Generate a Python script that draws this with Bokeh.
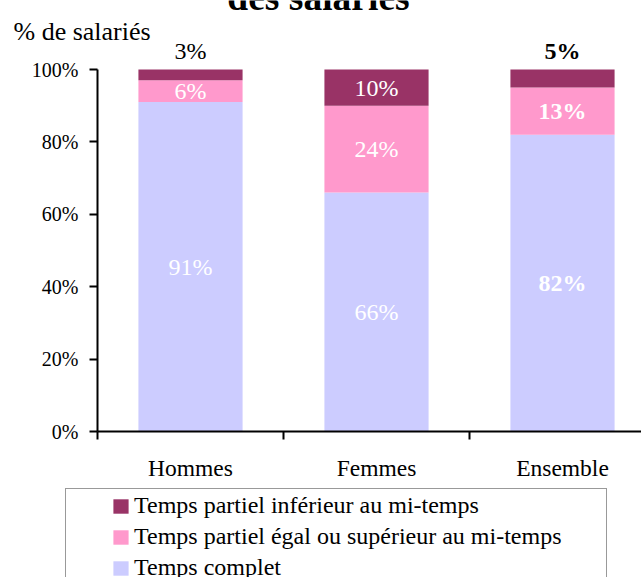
from bokeh.plotting import figure
from bokeh.models import (Range1d, FixedTicker, NumeralTickFormatter, Legend, LegendItem,
                          ColumnDataSource, Label)
from bokeh.core.properties import value
from bokeh.embed import file_html
from bokeh.resources import INLINE

# ---- data ----
categories = ["Hommes", "Femmes", "Ensemble"]
temps_complet = [0.91, 0.66, 0.82]
partiel_sup = [0.06, 0.24, 0.13]
partiel_inf = [0.03, 0.10, 0.05]
series_names = ["Temps complet",
                "Temps partiel égal ou supérieur au mi-temps",
                "Temps partiel inférieur au mi-temps"]
y_ticks = [0, 0.2, 0.4, 0.6, 0.8, 1.0]
y_title = "% de salariés"
chart_title = "des salariés"

# ---- style / layout ----
FONT = "Liberation Serif"
colors = ["#CCCCFF", "#FF99CC", "#993366"]
bold_category = "Ensemble"
W, H = 641, 577
X0_PX, Y0_PX, Y1_PX, CAT_PX = 97, 431, 69, 186   # screen position of the axes origin / scale
PX_PER_Y = Y0_PX - Y1_PX

x_centers = [i + 0.5 for i in range(len(categories))]
x_bounds = list(range(len(categories) + 1))
x_start = -X0_PX / CAT_PX
x_end = (W - X0_PX) / CAT_PX
y_start = -(H - Y0_PX) / PX_PER_Y
y_end = 1 + Y1_PX / PX_PER_Y

p = figure(width=W, height=H, title=None,
           x_range=Range1d(x_start, x_end), y_range=Range1d(y_start, y_end),
           output_backend="svg", toolbar_location=None, min_border=0)
p.outline_line_color = None
p.xgrid.visible = False
p.ygrid.visible = False

keys = ["complet", "sup", "inf"]
src = ColumnDataSource(dict(x=x_centers, complet=temps_complet, sup=partiel_sup, inf=partiel_inf))
rs = p.vbar_stack(keys, x="x", width=0.56, fill_color=colors, line_color=None, source=src)

# value labels
series = [temps_complet, partiel_sup, partiel_inf]
lx, ly, lt, lc, ls, lo = [], [], [], [], [], []
for i, cat in enumerate(categories):
    base = 0.0
    total = sum(s[i] for s in series)
    for k, s in enumerate(series):
        v = s[i]
        top_small = (k == len(series) - 1) and v < 0.08
        lx.append(x_centers[i])
        if top_small:
            ly.append(total)
            lo.append(-19)
            lc.append("black")
        else:
            ly.append(base + v / 2)
            lo.append(0)
            lc.append("white")
        lt.append(f"{round(v * 100)}%")
        ls.append("bold" if cat == bold_category else "normal")
        base += v
lsrc = ColumnDataSource(dict(x=lx, y=ly, text=lt, color=lc, style=ls, yoff=lo))
p.text(x="x", y="y", text="text", text_color="color", text_font_style="style",
       y_offset="yoff", text_align="center", text_baseline="middle",
       text_font=value(FONT), text_font_size="24px", source=lsrc)

# axes (drawn at the data origin)
p.yaxis.fixed_location = 0
p.yaxis.bounds = (0, 1)
p.yaxis.ticker = FixedTicker(ticks=y_ticks)
p.yaxis.formatter = NumeralTickFormatter(format="0%")
p.yaxis.major_label_text_font = FONT
p.yaxis.major_label_text_font_size = "20px"
p.yaxis.major_label_text_color = "black"
p.yaxis.major_tick_out = 8
p.yaxis.major_tick_in = 0
p.yaxis.minor_tick_line_color = None
p.yaxis.axis_line_width = 2
p.yaxis.major_tick_line_width = 2
p.yaxis.axis_line_color = "black"
p.yaxis.major_label_standoff = 11

p.xaxis.fixed_location = 0
p.xaxis.bounds = (0, x_end)
p.xaxis.ticker = FixedTicker(ticks=x_centers, minor_ticks=x_bounds)
p.xaxis.major_label_overrides = {xc: c for xc, c in zip(x_centers, categories)}
p.xaxis.major_label_text_font = FONT
p.xaxis.major_label_text_font_size = "23.5px"
p.xaxis.major_label_text_color = "black"
p.xaxis.major_tick_out = 0
p.xaxis.major_tick_in = 0
p.xaxis.major_tick_line_color = None
p.xaxis.minor_tick_out = 8
p.xaxis.minor_tick_in = 0
p.xaxis.minor_tick_line_width = 2
p.xaxis.minor_tick_line_color = "black"
p.xaxis.axis_line_width = 2
p.xaxis.axis_line_color = "black"
p.xaxis.major_label_standoff = 15

# texts above the plot
p.add_layout(Label(x=0, y=1, x_offset=-84, y_offset=38, text=y_title,
                   text_font=FONT, text_font_size="26px", text_color="black",
                   text_align="left", text_baseline="middle"))
p.add_layout(Label(x=0, y=1, x_offset=221, y_offset=72, text=chart_title,
                   text_font=FONT, text_font_size="37.5px", text_font_style="bold",
                   text_color="black", text_align="center", text_baseline="alphabetic"))

# legend box (frame) and legend entries
r_box = p.vbar(x=[], top=[], width=0.1, fill_alpha=0, line_alpha=0)
box = Legend(items=[LegendItem(label=" ", renderers=[r_box])],
             location=(65, -13), padding=0, margin=0,
             glyph_width=540, glyph_height=100, label_standoff=0,
             label_width=0, label_height=0, label_text_font_size="1px",
             border_line_color="#333333", border_line_width=1,
             background_fill_color="white", background_fill_alpha=1)
p.add_layout(box)

legend = Legend(items=[LegendItem(label=series_names[k], renderers=[rs[k]]) for k in [2, 1, 0]],
                location=(111, -4), padding=0, margin=0, spacing=4,
                glyph_width=19, glyph_height=18, label_standoff=4,
                label_text_font=FONT, label_text_font_size="24px", label_text_color="black",
                border_line_color=None, background_fill_alpha=0)
p.add_layout(legend)

open("out.html", "w").write(file_html(p, INLINE))
